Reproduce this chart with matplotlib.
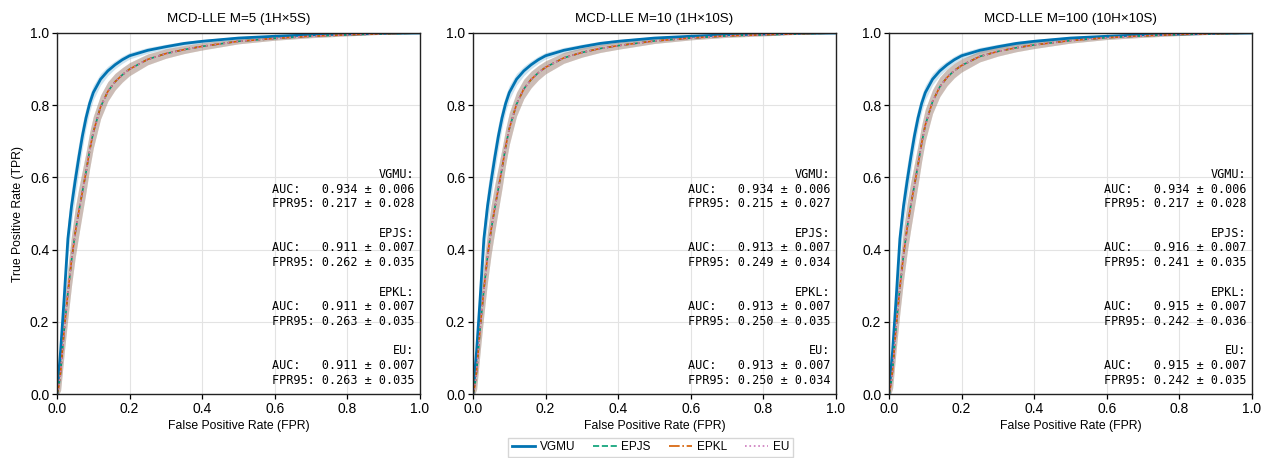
import numpy as np
import matplotlib
matplotlib.use("Agg")
import matplotlib.pyplot as plt

# ---------------- data ----------------
FPR = [0, 0.005, 0.01, 0.02, 0.03, 0.04, 0.05, 0.06, 0.07, 0.08, 0.09, 0.10,
       0.12, 0.14, 0.16, 0.18, 0.20, 0.25, 0.30, 0.35, 0.40, 0.50, 0.60,
       0.70, 0.80, 0.90, 1.0]

VGMU_TPR = [0, 0.06, 0.12, 0.27, 0.43, 0.52, 0.59, 0.655, 0.715, 0.765, 0.805,
            0.835, 0.872, 0.895, 0.912, 0.926, 0.937, 0.952, 0.962, 0.971,
            0.977, 0.986, 0.991, 0.995, 0.997, 0.999, 1.0]
VGMU_STD = [0, 0.025, 0.04, 0.05, 0.05, 0.048, 0.045, 0.04, 0.034, 0.028,
            0.023, 0.02, 0.016, 0.013, 0.011, 0.01, 0.009, 0.008, 0.007,
            0.006, 0.005, 0.004, 0.003, 0.002, 0.0015, 0.001, 0]

EP_TPR_M5 = [0, 0.02, 0.06, 0.18, 0.28, 0.37, 0.445, 0.505, 0.56, 0.615, 0.675,
             0.725, 0.795, 0.838, 0.865, 0.884, 0.900, 0.927, 0.943, 0.954,
             0.963, 0.977, 0.985, 0.991, 0.995, 0.998, 1.0]
EP_TPR_M10 = [0, 0.022, 0.063, 0.185, 0.29, 0.38, 0.455, 0.515, 0.57, 0.625,
              0.685, 0.735, 0.803, 0.845, 0.871, 0.89, 0.905, 0.931, 0.946,
              0.957, 0.965, 0.978, 0.986, 0.992, 0.995, 0.998, 1.0]
EP_TPR_M100 = [0, 0.024, 0.066, 0.19, 0.295, 0.385, 0.46, 0.522, 0.578, 0.635,
               0.695, 0.745, 0.81, 0.851, 0.877, 0.896, 0.91, 0.935, 0.949,
               0.959, 0.967, 0.979, 0.987, 0.992, 0.996, 0.998, 1.0]
EP_STD = [0, 0.03, 0.05, 0.065, 0.07, 0.07, 0.068, 0.065, 0.06, 0.055,
          0.05, 0.044, 0.033, 0.027, 0.023, 0.02, 0.018, 0.015, 0.013,
          0.011, 0.01, 0.007, 0.005, 0.004, 0.003, 0.0015, 0]

TITLES = ["MCD-LLE M=5 (1H×5S)", "MCD-LLE M=10 (1H×10S)", "MCD-LLE M=100 (10H×10S)"]
METHODS = ["VGMU", "EPJS", "EPKL", "EU"]

AUC_MEAN = [[0.934, 0.911, 0.911, 0.911],
            [0.934, 0.913, 0.913, 0.913],
            [0.934, 0.916, 0.915, 0.915]]
AUC_STD = [[0.006, 0.007, 0.007, 0.007],
           [0.006, 0.007, 0.007, 0.007],
           [0.006, 0.007, 0.007, 0.007]]
FPR95_MEAN = [[0.217, 0.262, 0.263, 0.263],
              [0.215, 0.249, 0.250, 0.250],
              [0.217, 0.241, 0.242, 0.242]]
FPR95_STD = [[0.028, 0.035, 0.035, 0.035],
             [0.027, 0.034, 0.035, 0.034],
             [0.028, 0.035, 0.036, 0.035]]

TICKS = [0.0, 0.2, 0.4, 0.6, 0.8, 1.0]

# ---------------- style ----------------
COLORS = {"VGMU": "#0173b2", "EPJS": "#029e73", "EPKL": "#d55e00", "EU": "#cc78bc"}
STYLES = {"VGMU": dict(ls="-", lw=2.0),
          "EPJS": dict(ls="--", lw=1.2),
          "EPKL": dict(ls="-.", lw=1.2),
          "EU": dict(ls=":", lw=1.2)}

plt.rcParams["font.family"] = ["Liberation Sans", "DejaVu Sans"]

fig = plt.figure(figsize=(12.61, 4.58), dpi=100)
lefts = [57, 473, 889]
W, H = 1261, 458
ep_curves = [EP_TPR_M5, EP_TPR_M10, EP_TPR_M100]

fpr = np.array(FPR)
handles = []
for i in range(3):
    ax = fig.add_axes([lefts[i] / W, (458 - 394) / H, 363 / W, 361 / H])
    curves = {"VGMU": (np.array(VGMU_TPR), np.array(VGMU_STD))}
    for m in ["EPJS", "EPKL", "EU"]:
        curves[m] = (np.array(ep_curves[i]), np.array(EP_STD))
    for m in METHODS:
        t, s = curves[m]
        ax.fill_between(fpr, np.clip(t - s, 0, 1), np.clip(t + s, 0, 1),
                        color=COLORS[m], alpha=0.2, lw=0)
    for m in METHODS:
        t, s = curves[m]
        h, = ax.plot(fpr, t, color=COLORS[m], label=m, **STYLES[m])
        if i == 0:
            handles.append(h)
    ax.set_xlim(0, 1)
    ax.set_ylim(0, 1)
    ax.set_xticks(TICKS)
    ax.set_yticks(TICKS)
    ax.set_xticklabels([f"{v:.1f}" for v in TICKS])
    ax.set_yticklabels([f"{v:.1f}" for v in TICKS])
    ax.tick_params(labelsize=10, length=3.5, width=0.9, pad=2)
    ax.grid(True, color="#e3e3e3", lw=0.8)
    ax.set_axisbelow(True)
    for sp in ax.spines.values():
        sp.set_linewidth(1.0)
        sp.set_color("#222222")
    ax.set_title(TITLES[i], fontsize=9.6, pad=8)
    ax.set_xlabel("False Positive Rate (FPR)", fontsize=8.8, labelpad=3)
    if i == 0:
        ax.set_ylabel("True Positive Rate (TPR)", fontsize=8.8, labelpad=4)
    lines = []
    for j, m in enumerate(METHODS):
        if j > 0:
            lines.append("")
        lines.append(f"{m}:")
        lines.append(f"AUC:   {AUC_MEAN[i][j]:.3f} ± {AUC_STD[i][j]:.3f}")
        lines.append(f"FPR95: {FPR95_MEAN[i][j]:.3f} ± {FPR95_STD[i][j]:.3f}")
    ax.text(0.985, 0.02, "\n".join(lines), transform=ax.transAxes,
            ha="right", va="bottom", multialignment="right",
            family="DejaVu Sans Mono", fontsize=8.5, linespacing=1.17)

fig.legend(handles, METHODS, loc="lower center", ncol=4,
           bbox_to_anchor=(650.5 / W, 0.0), fontsize=8.5, frameon=True,
           fancybox=False, edgecolor="#cccccc", borderpad=0.3,
           borderaxespad=0.1, handlelength=2.0, columnspacing=1.5,
           handletextpad=0.4)

fig.savefig("out.png", dpi=100)
